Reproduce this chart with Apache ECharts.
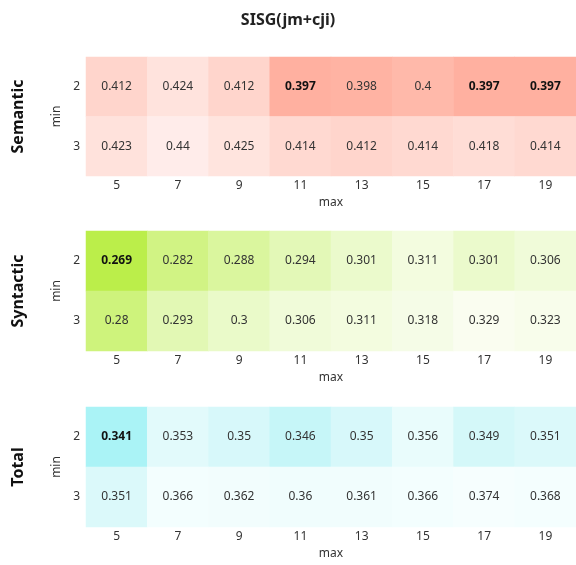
<!DOCTYPE html>
<html>
<head>
<meta charset="utf-8">
<script src="https://cdn.jsdelivr.net/npm/echarts@6/dist/echarts.min.js"></script>
<style>html,body{margin:0;padding:0;background:#fff}#c{width:576px;height:565px}</style>
</head>
<body>
<div id="c"></div>
<script>
const maxCats = ['5','7','9','11','13','15','17','19'];
const minCats = ['2','3'];
const panelNames = ['Semantic','Syntactic','Total'];
const semantic2 = [0.412,0.424,0.412,0.397,0.398,0.4,0.397,0.397];
const semantic3 = [0.423,0.44,0.425,0.414,0.412,0.414,0.418,0.414];
const syntactic2 = [0.269,0.282,0.288,0.294,0.301,0.311,0.301,0.306];
const syntactic3 = [0.28,0.293,0.3,0.306,0.311,0.318,0.329,0.323];
const total2 = [0.341,0.353,0.35,0.346,0.35,0.356,0.349,0.351];
const total3 = [0.351,0.366,0.362,0.36,0.361,0.366,0.374,0.368];

const panels = [[semantic2, semantic3],[syntactic2, syntactic3],[total2, total3]];
const palettes = [
  ['#ffb0a0','#ffc9bc','#ffd9d1','#ffe2dc','#ffe8e4','#ffecea'],
  ['#bbee4a','#d0f380','#e2f8b4','#f0fbd8','#f5fce6','#fafdf0'],
  ['#aaf3f6','#cff7f9','#e6fbfb','#f1fdfd','#f4fefe','#f6fefe']
];
const tops = [57, 231, 407];
const heights = [119, 120, 120];

const font = '"Noto Sans", "Open Sans", sans-serif';
const grids = [], xAxes = [], yAxes = [], series = [], visualMaps = [], graphics = [];
panels.forEach((rows, p) => {
  grids.push({left: 86, top: tops[p], width: 494, height: heights[p]});
  xAxes.push({type:'category', gridIndex:p, data:maxCats, name:'max', nameLocation:'middle', nameGap:21,
    nameTextStyle:{fontSize:12, color:'#333', fontFamily:font},
    axisLine:{show:false}, axisTick:{show:false}, splitLine:{show:false},
    axisLabel:{fontSize:12, color:'#333', margin:4, fontFamily:font}});
  yAxes.push({type:'category', gridIndex:p, data:minCats, inverse:true, name:'min', nameLocation:'middle', nameGap:23,
    nameRotate:90, nameTextStyle:{fontSize:12, color:'#333', fontFamily:font},
    axisLine:{show:false}, axisTick:{show:false}, splitLine:{show:false},
    axisLabel:{fontSize:12, color:'#333', margin:6, fontFamily:font}});
  const all = rows[0].concat(rows[1]);
  const mn = Math.min(...all), mx = Math.max(...all);
  const data = [];
  rows.forEach((r, yi) => r.forEach((v, xi) => {
    const item = {value:[xi, yi, v]};
    if (v === mn) item.label = {fontWeight:'bold', color:'#111'};
    data.push(item);
  }));
  visualMaps.push({type:'continuous', show:false, seriesIndex:p, dimension:2, min:mn, max:mx,
    inRange:{color:palettes[p]}});
  series.push({type:'heatmap', xAxisIndex:p, yAxisIndex:p, data:data,
    label:{show:true, fontSize:12, color:'#333', fontFamily:font, formatter: d => String(d.value[2])},
    emphasis:{disabled:true}, itemStyle:{borderWidth:0}});
  graphics.push({type:'text', x:18, y:tops[p] + heights[p]/2, rotation:Math.PI/2,
    style:{text:panelNames[p], font:'bold 16px ' + font, fill:'#111', textAlign:'center', textVerticalAlign:'middle'}});
});

const chart = echarts.init(document.getElementById('c'));
chart.setOption({
  animation:false,
  title:{text:'SISG(jm+cji)', left:'center', top:7, textStyle:{fontSize:16, fontWeight:'bold', color:'#222', fontFamily:font}},
  grid:grids, xAxis:xAxes, yAxis:yAxes, visualMap:visualMaps, series:series, graphic:graphics
});
</script>
</body>
</html>
